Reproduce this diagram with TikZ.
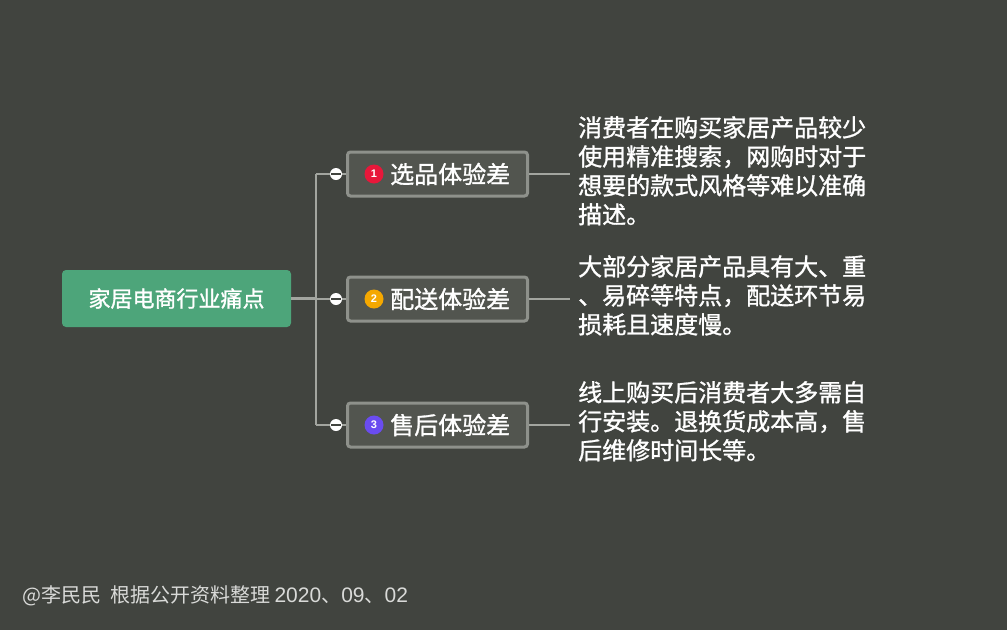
\documentclass[tikz,border=0pt]{standalone}
\usepackage{fontspec}
\setmainfont{Noto Sans CJK SC}
\newfontfamily\medf[FakeBold=1.2]{Noto Sans CJK SC}
\newfontfamily\latin{Liberation Sans}
\begin{document}
\begin{tikzpicture}[x=1pt,y=-1pt,
  child/.style={draw=boxline,line width=3pt,fill=boxfill,rounded corners=3pt,minimum width=180pt,minimum height=44pt,inner sep=0pt},
  conn/.style={draw=connc,line width=2.2pt},
  badge/.style={circle,inner sep=0pt,minimum size=19pt,text=white,font=\latin\bfseries\fontsize{11}{11}\selectfont},
  desc/.style={anchor=north west,align=left,text=white,font=\medf\fontsize{24}{29}\selectfont,inner sep=0pt},
  knob/.style={circle,fill=white,inner sep=0pt,minimum size=12pt,path picture={\draw[bg,line width=1.6pt] ([xshift=-5pt]path picture bounding box.center) -- ([xshift=5pt]path picture bounding box.center);}}]
\definecolor{bg}{HTML}{41443F}
\definecolor{boxfill}{HTML}{52554F}
\definecolor{boxline}{HTML}{8E918B}
\definecolor{connc}{HTML}{A2A59F}
\definecolor{rootc}{HTML}{4DA57A}
\fill[bg] (0,0) rectangle (1007,630);
\useasboundingbox (0,0) rectangle (1007,630);
\node[fill=rootc,rounded corners=4pt,minimum width=229pt,minimum height=57pt,text=white,font=\medf\fontsize{22}{22}\selectfont] (root) at (176.5,298.5) {家居电商行业痛点};
\coordinate (tr) at (316,298.5);
\foreach \i/\y/\c/\t in {1/174/E8173A/选品体验差,2/299/F5A800/配送体验差,3/425/6A4CF0/售后体验差}{
  \definecolor{bc}{HTML}{\c}
  \node[child] (c\i) at (437.5,\y) {};
  \node[badge,fill=bc] (b\i) at (374,\y) {\i};
  \node[anchor=west,text=white,font=\medf\fontsize{24}{24}\selectfont,inner sep=0pt] (t\i) at (390,\y) {\t};
  \coordinate (j\i) at (316,\y);
  \coordinate (e\i) at (570,\y);
}
\draw[conn] (root.east) -- (tr);
\draw[conn] (j1) -- (j3);
\foreach \i in {1,2,3}{
  \draw[conn] (j\i) -- (c\i.west);
  \draw[conn] (c\i.east) -- (e\i);
  \node[knob] (k\i) at ([xshift=20pt]j\i) {};
}
\node[desc] (d1) at (578,116) {消费者在购买家居产品较少\\使用精准搜索，网购时对于\\想要的款式风格等难以准确\\描述。};
\node[desc] (d2) at (578,255) {大部分家居产品具有大、重\\、易碎等特点，配送环节易\\损耗且速度慢。};
\node[desc] (d3) at (578,381) {线上购买后消费者大多需自\\行安装。退换货成本高，售\\后维修时间长等。};
\node[anchor=west,text=white!80!bg,font=\fontsize{20}{20}\selectfont,inner sep=0pt] (foot) at (22,596) {@李民民\ \ 根据公开资料整理 {\latin\fontsize{21}{21}\selectfont 2020}、{\latin\fontsize{21}{21}\selectfont 09}、{\latin\fontsize{21}{21}\selectfont 02}};
\end{tikzpicture}
\end{document}
